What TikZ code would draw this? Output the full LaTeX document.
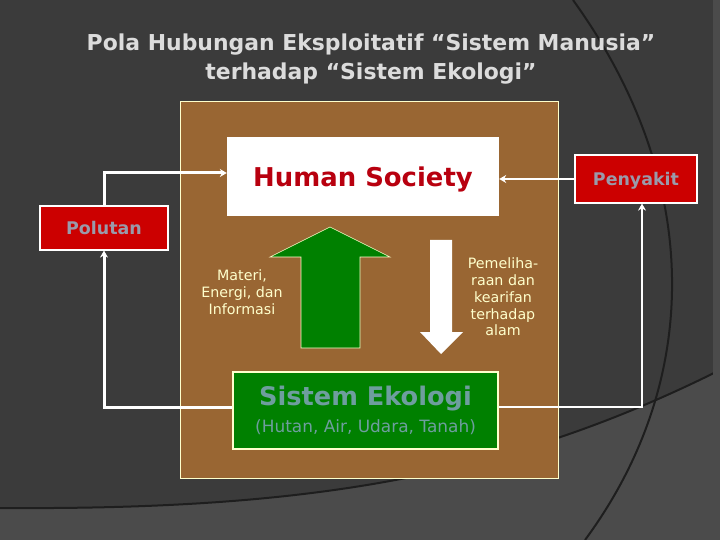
\documentclass[tikz,border=0pt]{standalone}
\usepackage{fontspec}
\setmainfont{DejaVu Sans}
\usepackage{tikz}
\usetikzlibrary{arrows.meta}
\definecolor{slate}{HTML}{3B3B3B}
\definecolor{slatelight}{HTML}{4B4B4B}
\definecolor{groove}{HTML}{1E1E1E}
\definecolor{soil}{HTML}{996633}
\definecolor{blood}{HTML}{CC0000}
\definecolor{society}{HTML}{B8000F}
\definecolor{leaf}{HTML}{008000}
\definecolor{ecotext}{HTML}{6E9E9E}
\definecolor{tag}{HTML}{9A9AAA}
\definecolor{cream}{HTML}{FFFFCC}
\definecolor{titlegray}{HTML}{DCDCDC}

\begin{document}
\begin{tikzpicture}[x=1bp,y=-1bp,
  box/.style={inner sep=0pt,align=center},
  redtag/.style={box,text depth=0pt,fill=blood,draw=white,line width=1.2bp,text=tag,font=\bfseries\fontsize{17.5}{20}\selectfont},
  link/.style={draw=white,-{Stealth[length=7bp,width=8bp]}},
  note/.style={align=center,text=cream,font=\fontsize{14.3}{16.8}\selectfont}]
  \useasboundingbox (0,0) rectangle (720,540);
  %background
  \fill[slate] (0,0) rectangle (720,540);
  \fill[slatelight] (0,508) .. controls (300,510) and (500,480) .. (720,370) -- (720,540) -- (0,540) -- cycle;
  \draw[groove,line width=2bp] (0,508) .. controls (300,510) and (500,480) .. (720,370);
  \draw[groove,line width=2bp] (573,0) .. controls (703,180) and (703,380) .. (585,540);
  \fill[slatelight] (713,0) rectangle (720,540);
  %title
  \node[box,text=titlegray,font=\bfseries\fontsize{22}{30}\selectfont] (title) at (371,59)
    {Pola Hubungan Eksploitatif “Sistem Manusia”\\terhadap “Sistem Ekologi”};
  %frame
  \node[box,fill=soil,draw=cream,line width=0.8bp,minimum width=378bp,minimum height=377bp] (frame) at (369,289.5) {};
  %nodes
  \node[box,text depth=0pt,fill=white,minimum width=272bp,minimum height=79bp,text=society,font=\bfseries\fontsize{26}{30}\selectfont] (hs) at (363,176.5) {Human Society};
  \node[redtag,minimum width=128bp,minimum height=44bp] (pol) at (104,228) {Polutan};
  \node[redtag,minimum width=122bp,minimum height=48bp] (pen) at (636,179) {Penyakit};
  \node[box,fill=leaf,draw=cream,line width=1.5bp,minimum width=265bp,minimum height=77bp,text=ecotext] (se) at (365.5,410.5)
    {{\bfseries\fontsize{25.7}{27}\selectfont Sistem Ekologi}\\[8bp]{\fontsize{17}{18}\selectfont(Hutan, Air, Udara, Tanah)}};
  %block arrows
  \draw[fill=leaf,draw=cream,line width=0.6bp] (301,348) -- (301,257) -- (270,257) -- (330,227) -- (390,257) -- (360,257) -- (360,348) -- cycle;
  \fill[white] (430,240) -- (452,240) -- (452,332) -- (463,332) -- (441,354) -- (420,332) -- (430,332) -- cycle;
  \node[note] (mat) at (242,292) {Materi,\\Energi, dan\\Informasi};
  \node[note] (pem) at (503,297) {Pemeliha-\\raan dan\\kearifan\\terhadap\\alam};
  %connectors
  \draw[link,line width=3bp] (pol.north) |- ([yshift=3.5bp]hs.west);
  \draw[link,line width=1.5bp] (pen.west) -- (pen.west -| hs.east);
  \draw[link,line width=3bp] ([yshift=3.5bp]se.west) -| (pol.south);
  \draw[link,line width=2bp] ([yshift=3.5bp]se.east) -| ([xshift=6bp]pen.south);
\end{tikzpicture}
\end{document}
